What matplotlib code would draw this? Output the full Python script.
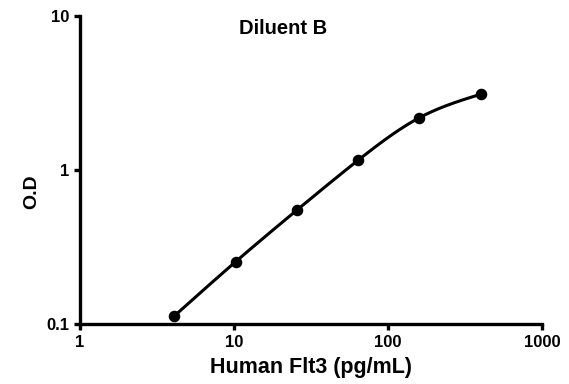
import numpy as np
import matplotlib
matplotlib.use("Agg")
import matplotlib.pyplot as plt

# standard curve points
conc = [4.1, 10.24, 25.6, 64.0, 160.0, 400.0]
od = [0.113, 0.254, 0.55, 1.16, 2.19, 3.11]

title = "Diluent B"
xlabel = "Human Flt3 (pg/mL)"
ylabel = "O.D"
xticks = [1, 10, 100, 1000]
yticks = [0.1, 1, 10]


def smooth_curve(x, y, n=300):
    # natural cubic spline in log-log space, only used to draw the line
    lx, ly = np.log10(x), np.log10(y)
    m = len(lx)
    h = np.diff(lx)
    A = np.zeros((m, m))
    b = np.zeros(m)
    A[0, 0] = A[-1, -1] = 1
    for i in range(1, m - 1):
        A[i, i - 1] = h[i - 1]
        A[i, i] = 2 * (h[i - 1] + h[i])
        A[i, i + 1] = h[i]
        b[i] = 3 * ((ly[i + 1] - ly[i]) / h[i] - (ly[i] - ly[i - 1]) / h[i - 1])
    c = np.linalg.solve(A, b)
    xs, ys = [], []
    for i in range(m - 1):
        t = np.linspace(0, h[i], n // (m - 1))
        bi = (ly[i + 1] - ly[i]) / h[i] - h[i] * (2 * c[i] + c[i + 1]) / 3
        di = (c[i + 1] - c[i]) / (3 * h[i])
        xs.append(lx[i] + t)
        ys.append(ly[i] + bi * t + c[i] * t ** 2 + di * t ** 3)
    return 10 ** np.concatenate(xs), 10 ** np.concatenate(ys)


plt.rcParams["font.family"] = ["Liberation Sans", "DejaVu Sans"]

fig = plt.figure(figsize=(5.69, 3.84), dpi=100)
ax = fig.add_axes([0.1406, 0.156, 0.812, 0.802])

cx, cy = smooth_curve(conc, od)
ax.plot(cx, cy, color="black", linewidth=2.2, solid_capstyle="round")
ax.plot(conc, od, "o", color="black", markersize=7.3)

ax.set_xscale("log")
ax.set_yscale("log")
ax.set_xlim(1, 1000)
ax.set_ylim(0.1, 10)
ax.set_xticks(xticks)
ax.set_xticklabels([str(t) for t in xticks])
ax.set_yticks(yticks)
ax.set_yticklabels(["0.1", "1", "10"])
ax.minorticks_off()

for s in ["top", "right"]:
    ax.spines[s].set_visible(False)
for s in ["left", "bottom"]:
    ax.spines[s].set_linewidth(2.4)
ax.tick_params(width=2.4, length=4, labelsize=12, pad=4)
for lab in ax.get_xticklabels() + ax.get_yticklabels():
    lab.set_fontweight("bold")

ax.set_xlabel(xlabel, fontsize=15.5, fontweight="bold", labelpad=5)
ax.set_ylabel(ylabel, fontsize=14, fontweight="bold")
ax.yaxis.set_label_coords(-0.085, 0.43)
ax.text(0.44, 0.96, title, transform=ax.transAxes, ha="center", va="center",
        fontsize=14.5, fontweight="bold")

fig.savefig("out.png", dpi=100)
